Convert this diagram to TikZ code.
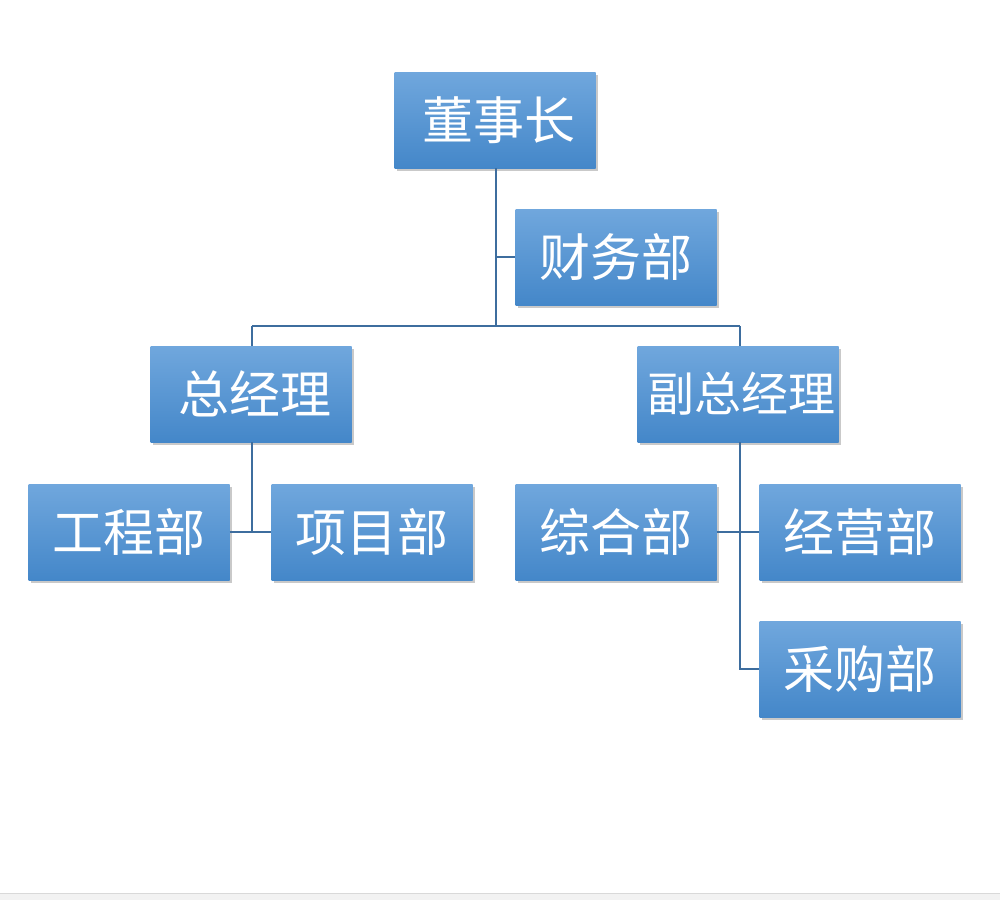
\documentclass[tikz,border=0pt]{standalone}
\usepackage{fontspec}
\newfontfamily\cjk{Noto Sans CJK SC}
\usetikzlibrary{shadows}
\definecolor{boxtop}{HTML}{70A7DD}
\definecolor{boxbot}{HTML}{4487C9}
\definecolor{conn}{HTML}{3D6D9E}
\tikzset{
  orgbox/.style={rectangle, minimum width=201pt, minimum height=96pt, inner sep=0pt,
    top color=boxtop, bottom color=boxbot, draw=none,
    drop shadow={shadow xshift=2pt, shadow yshift=-3pt, opacity=0.35, fill=black!60},
    text=white, font=\cjk\fontsize{51}{51}\selectfont},
  widebox/.style={orgbox, font=\cjk\fontsize{47}{47}\selectfont},
  link/.style={draw=conn, line width=2pt}
}
\begin{document}
\begin{tikzpicture}[x=1pt,y=-1pt]
\useasboundingbox (0,0) rectangle (1000,900);
\fill[white] (0,0) rectangle (1000,900);
\fill[black!5] (0,894) rectangle (1000,900);
\draw[black!15, line width=1pt] (0,893.5) -- (1000,893.5);

\node[orgbox] (dsz) at (495,120) {\hspace{8pt}董事长};
\node[orgbox] (cwb) at (616,257) {财务部};
\node[orgbox] (zjl) at (251,394) {\hspace{8pt}总经理};
\node[widebox] (fzjl) at (738,394) {\hspace{6pt}副总经理};
\node[orgbox] (gcb) at (129,532) {工程部};
\node[orgbox] (xmb) at (372,532) {项目部};
\node[orgbox] (zhb) at (616,532) {综合部};
\node[orgbox] (jyb) at (860,532) {经营部};
\node[orgbox] (cgb) at (860,669) {采购部};

\coordinate (j1) at (496,326);
\coordinate (jl) at (252,326);
\coordinate (jr) at (740,326);

\path[link] (dsz.south -| j1) -- (j1);
\path[link] (cwb.west -| j1) -- (cwb.west);
\path[link] (jl) -- (jr);
\path[link] (jl) -- (zjl.north -| jl);
\path[link] (jr) -- (fzjl.north -| jr);
\path[link] (zjl.south -| jl) -- (gcb.east -| jl);
\path[link] (gcb.east) -- (xmb.west);
\path[link] (fzjl.south -| jr) -- (cgb.west -| jr) -- (cgb.west);
\path[link] (zhb.east) -- (jyb.west);
\end{tikzpicture}
\end{document}
